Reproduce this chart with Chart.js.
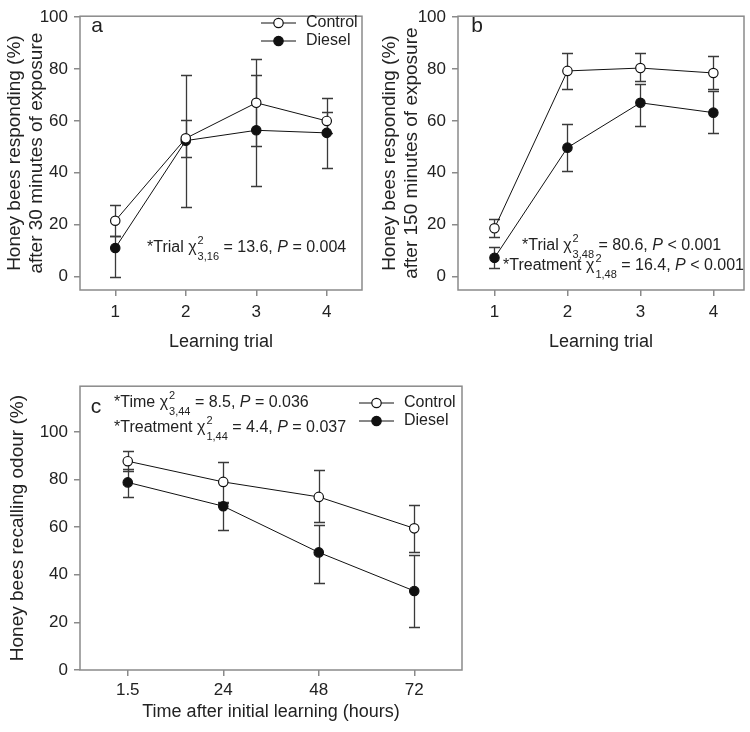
<!DOCTYPE html>
<html>
<head>
<meta charset="utf-8">
<script src="https://cdn.jsdelivr.net/npm/chart.js@4.4.1/dist/chart.umd.min.js"></script>
<style>
  html, body { margin: 0; padding: 0; background: #fff; }
  body { width: 750px; height: 732px; position: relative; overflow: hidden; }
  canvas { position: absolute; }
</style>
</head>
<body>
<canvas id="chartA" width="375" height="365" style="left:0;top:0"></canvas>
<canvas id="chartB" width="375" height="365" style="left:375px;top:0"></canvas>
<canvas id="chartC" width="480" height="362" style="left:0;top:370px"></canvas>
<script>
// categories / tick labels
const trialLabels = ['1', '2', '3', '4'];
const timeLabels = ['1.5', '24', '48', '72'];
const yTicks = [0, 20, 40, 60, 80, 100];

// panel a - 30 min of exposure (mean, upper and lower error bar ends)
const controlA   = [21.5, 53.3, 67.0, 60.0];
const controlAHi = [27.5, 60.4, 84.0, 69.0];
const controlALo = [15.5, 46.0, 50.4, 55.5];
const dieselA    = [11.0, 52.4, 56.4, 55.4];
const dieselAHi  = [15.5, 77.8, 77.8, 63.3];
const dieselALo  = [0.0, 27.0, 35.0, 42.0];

// panel b - 150 min of exposure
const controlB   = [18.6, 79.3, 80.4, 78.5];
const controlBHi = [22.2, 86.1, 86.3, 85.0];
const controlBLo = [15.2, 72.4, 75.4, 72.3];
const dieselB    = [7.2, 49.7, 67.0, 63.2];
const dieselBHi  = [11.2, 58.9, 74.4, 71.4];
const dieselBLo  = [3.1, 40.6, 58.2, 55.3];

// panel c - recall after learning
const controlC   = [87.7, 79.0, 72.7, 59.5];
const controlCHi = [92.0, 87.4, 84.1, 69.5];
const controlCLo = [83.4, 70.5, 62.0, 49.4];
const dieselC    = [78.8, 68.8, 49.4, 33.2];
const dieselCHi  = [84.5, 70.0, 61.1, 48.4];
const dieselCLo  = [72.8, 58.6, 36.7, 18.1];

const FAM = '"Liberation Sans", Arial, sans-serif';
const axisGray = '#8a8a8a';
const markerR = 4.7;
Chart.defaults.font.family = FAM;
Chart.defaults.color = '#222';

// error bars under the markers
const errorBars = {
  id: 'errorBars',
  beforeDatasetsDraw(chart) {
    const { ctx, scales: { x, y } } = chart;
    ctx.save();
    ctx.strokeStyle = '#3a3a3a';
    ctx.lineWidth = 1.3;
    chart.data.datasets.forEach(ds => {
      ds.data.forEach((pt, i) => {
        const px = Math.round(x.getPixelForValue(pt.x)) + 0.5;
        const hi = Math.round(y.getPixelForValue(ds.errHi[i])) + 0.5;
        const lo = Math.round(y.getPixelForValue(ds.errLo[i])) + 0.5;
        ctx.beginPath();
        ctx.moveTo(px, hi); ctx.lineTo(px, lo);
        ctx.moveTo(px - 5.5, hi); ctx.lineTo(px + 5.5, hi);
        ctx.moveTo(px - 5.5, lo); ctx.lineTo(px + 5.5, lo);
        ctx.stroke();
      });
    });
    ctx.restore();
  }
};

// text with chi-square super/subscripts
function rich(ctx, x, y, parts) {
  ctx.textBaseline = 'middle';
  ctx.textAlign = 'left';
  ctx.fillStyle = '#222';
  for (const p of parts) {
    if (typeof p === 'string') {
      ctx.font = '16px ' + FAM;
      ctx.fillText(p, x, y);
      x += ctx.measureText(p).width;
    } else if (p.i) {
      ctx.font = 'italic 16px ' + FAM;
      ctx.fillText(p.i, x, y);
      x += ctx.measureText(p.i).width;
    } else {
      ctx.font = '11px ' + FAM;
      ctx.fillText(p.sup, x + 1, y - 7);
      ctx.fillText(p.sub, x + 1, y + 9);
      x += Math.max(ctx.measureText(p.sup).width, ctx.measureText(p.sub).width) + 1;
    }
  }
}

// frame, panel letter, legend and statistics
const decor = {
  id: 'decor',
  afterDraw(chart, args, o) {
    const { ctx, chartArea: a } = chart;
    ctx.save();
    ctx.strokeStyle = axisGray;
    ctx.lineWidth = 1.5;
    ctx.strokeRect(a.left, a.top, a.right - a.left, a.bottom - a.top);

    ctx.fillStyle = '#222';
    ctx.font = '21px ' + FAM;
    ctx.textAlign = 'center';
    ctx.textBaseline = 'middle';
    ctx.fillText(o.letter[0], o.letter[1], o.letter[2]);

    if (o.legend) {
      const L = o.legend;
      chart.data.datasets.forEach((ds, i) => {
        const yy = L.y + i * L.gap;
        ctx.strokeStyle = '#111';
        ctx.lineWidth = 1;
        ctx.beginPath();
        ctx.moveTo(L.x1, yy); ctx.lineTo(L.x2, yy);
        ctx.stroke();
        ctx.beginPath();
        ctx.arc((L.x1 + L.x2) / 2, yy, markerR, 0, Math.PI * 2);
        ctx.fillStyle = ds.pointBackgroundColor;
        ctx.fill();
        ctx.lineWidth = 1.2;
        ctx.stroke();
        ctx.fillStyle = '#222';
        ctx.font = '16px ' + FAM;
        ctx.textAlign = 'left';
        ctx.fillText(ds.label, L.tx, yy);
      });
    }
    (o.notes || []).forEach(n => rich(ctx, n.x, n.y, n.parts));
    ctx.restore();
  }
};

function panel(id, o) {
  const mk = (label, vals, hi, lo, fill) => ({
    label,
    data: vals.map((v, i) => ({ x: o.xs[i], y: v })),
    errHi: hi,
    errLo: lo,
    borderColor: '#111',
    borderWidth: 1,
    pointRadius: markerR,
    pointBorderWidth: 1.2,
    pointBorderColor: '#111',
    pointBackgroundColor: fill,
    tension: 0
  });
  return new Chart(document.getElementById(id), {
    type: 'line',
    data: {
      datasets: [
        mk('Control', o.control, o.controlHi, o.controlLo, '#ffffff'),
        mk('Diesel', o.diesel, o.dieselHi, o.dieselLo, '#111111')
      ]
    },
    options: {
      responsive: false,
      animation: false,
      devicePixelRatio: 1,
      layout: { padding: o.pad },
      plugins: { legend: { display: false }, tooltip: { enabled: false }, decor: o.decor },
      scales: {
        x: {
          type: 'linear',
          min: o.xMin, max: o.xMax,
          afterFit: s => { s.height = o.xH; },
          afterBuildTicks: s => { s.ticks = o.xs.map(v => ({ value: v })); },
          grid: { display: true, drawOnChartArea: false, tickLength: 6, color: axisGray, lineWidth: 1.5 },
          border: { display: false },
          ticks: { padding: o.xTickPad, font: { size: 17 }, callback: (v, i) => o.xLabels[i] },
          title: { display: true, text: o.xTitle, font: { size: 18 }, padding: { top: 0, bottom: o.xTitlePad } }
        },
        y: {
          min: o.yMin, max: o.yMax,
          afterFit: s => { s.width = o.yW; },
          afterBuildTicks: s => { s.ticks = yTicks.map(v => ({ value: v })); },
          grid: { display: true, drawOnChartArea: false, tickLength: 6, color: axisGray, lineWidth: 1.5 },
          border: { display: false },
          ticks: { padding: 6, font: { size: 17 } },
          title: { display: true, text: o.yTitle, font: { size: 19, lineHeight: 1.15 }, padding: { top: o.yTitlePad, bottom: 0 } }
        }
      }
    },
    plugins: [errorBars, decor]
  });
}

panel('chartA', {
  xs: [1, 2, 3, 4], xLabels: trialLabels, xMin: 0.5, xMax: 4.5, yMin: -5.2, yMax: 100.4,
  control: controlA, controlHi: controlAHi, controlLo: controlALo,
  diesel: dieselA, dieselHi: dieselAHi, dieselLo: dieselALo,
  pad: { top: 5, right: 13, left: 0, bottom: 0 }, yW: 80, xH: 75, xTickPad: 6, xTitlePad: 12, yTitlePad: 4,
  xTitle: 'Learning trial',
  yTitle: ['Honey bees responding (%)', 'after 30 minutes of exposure'],
  decor: {
    letter: ['a', 97, 26],
    legend: { x1: 261, x2: 296, tx: 306, y: 23, gap: 18 },
    notes: [{ x: 147, y: 248, parts: ['*Trial \u03c7', { sup: '2', sub: '3,16' }, ' = 13.6, ', { i: 'P' }, ' = 0.004'] }]
  }
});

panel('chartB', {
  xs: [1, 2, 3, 4], xLabels: trialLabels, xMin: 0.5, xMax: 4.42, yMin: -5.2, yMax: 100.4,
  control: controlB, controlHi: controlBHi, controlLo: controlBLo,
  diesel: dieselB, dieselHi: dieselBHi, dieselLo: dieselBLo,
  pad: { top: 5, right: 6, left: 0, bottom: 0 }, yW: 83, xH: 75, xTickPad: 6, xTitlePad: 12, yTitlePad: 4,
  xTitle: 'Learning trial',
  yTitle: ['Honey bees responding (%)', 'after 150 minutes of exposure'],
  decor: {
    letter: ['b', 102, 26],
    notes: [
      { x: 147, y: 246, parts: ['*Trial \u03c7', { sup: '2', sub: '3,48' }, ' = 80.6, ', { i: 'P' }, ' < 0.001'] },
      { x: 128, y: 266, parts: ['*Treatment \u03c7', { sup: '2', sub: '1,48' }, ' = 16.4, ', { i: 'P' }, ' < 0.001'] }
    ]
  }
});

panel('chartC', {
  xs: [0, 1, 2, 3], xLabels: timeLabels, xMin: -0.5, xMax: 3.5, yMin: 0, yMax: 119.2,
  control: controlC, controlHi: controlCHi, controlLo: controlCLo,
  diesel: dieselC, dieselHi: dieselCHi, dieselLo: dieselCLo,
  pad: { top: 15, right: 18, left: 0, bottom: 0 }, yW: 80, xH: 62, xTickPad: 4, xTitlePad: 9, yTitlePad: 7,
  xTitle: 'Time after initial learning (hours)',
  yTitle: 'Honey bees recalling odour (%)',
  decor: {
    letter: ['c', 96, 37],
    legend: { x1: 359, x2: 394, tx: 404, y: 33, gap: 18 },
    notes: [
      { x: 114, y: 33, parts: ['*Time \u03c7', { sup: '2', sub: '3,44' }, ' = 8.5, ', { i: 'P' }, ' = 0.036'] },
      { x: 114, y: 58, parts: ['*Treatment \u03c7', { sup: '2', sub: '1,44' }, ' = 4.4, ', { i: 'P' }, ' = 0.037'] }
    ]
  }
});
</script>
</body>
</html>
